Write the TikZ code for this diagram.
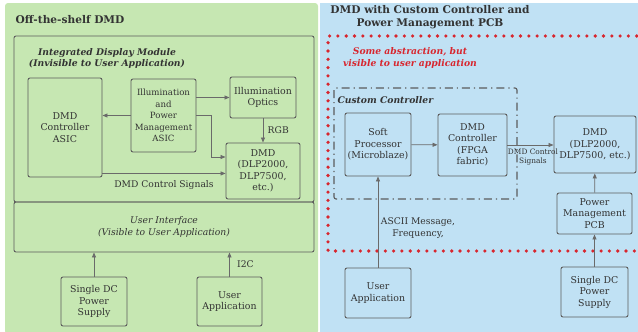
\documentclass[tikz,border=0pt]{standalone}
\usepackage{fontspec}
\setmainfont{DejaVu Serif}
\usetikzlibrary{arrows.meta, positioning}

\definecolor{panelgreen}{HTML}{C6E7B2}
\definecolor{panelblue}{HTML}{C0E1F4}
\definecolor{boxgray}{HTML}{5C5C5C}
\definecolor{arrowgray}{HTML}{6A6A6A}
\definecolor{dotred}{HTML}{D8262E}
\definecolor{textgray}{HTML}{333333}

\begin{document}
\begin{tikzpicture}[x=1pt, y=-1pt,
  blk/.style={rectangle, rounded corners=2pt, draw=boxgray, line width=0.9pt,
              align=center, text=textgray, inner sep=1pt,
              font=\fontsize{9.4}{11.5}\selectfont},
  frame/.style={rounded corners=2pt, draw=boxgray, line width=0.9pt},
  heading/.style={font=\fontsize{10.6}{13.5}\selectfont\bfseries, text=textgray, align=center},
  boxtitle/.style={font=\fontsize{9.2}{11.5}\selectfont\bfseries\itshape, text=textgray, align=center},
  note/.style={font=\fontsize{9.2}{11.5}\selectfont, text=textgray, align=center},
  arr/.style={-{Triangle[length=5pt, width=4pt]}, draw=arrowgray, line width=0.8pt},
]
  % panels
  \useasboundingbox (0,0) rectangle (638,332);
  \fill[panelgreen, rounded corners=3pt] (5,3) rectangle (318,334);
  \fill[panelblue] (320,3) rectangle (640,334);

  % ---- left: off-the-shelf DMD ----
  \node[heading, anchor=west] (titleL) at (12,20) {Off-the-shelf DMD};
  \draw[frame] (14,36) rectangle (314,202);
  \node[boxtitle] (idm) at (107,58.5) {Integrated Display Module\\(Invisible to User Application)};

  \node[blk, minimum width=74pt, minimum height=99pt] (ctrlasic) at (65,127.5) {DMD\\Controller\\ASIC};
  \node[blk, minimum width=65pt, minimum height=73pt, font=\fontsize{8.6}{11.5}\selectfont] (illasic) at (163.5,115.5) {Illumination\\and\\Power\\Management\\ASIC};
  \node[blk, minimum width=66pt, minimum height=41pt] (optics) at (263,97.5) {Illumination\\Optics};
  \node[blk, minimum width=74pt, minimum height=56pt] (dmdL) at (263,171) {DMD\\(DLP2000,\\DLP7500,\\etc.)};

  \draw[arr] (illasic.east |- optics) -- (optics.west);
  \draw[arr] (illasic.west) -- (ctrlasic.east |- illasic.west);
  \draw[arr] (illasic.east) -- ++(15,0) |- ([yshift=14pt]dmdL.west);
  \draw[arr] (optics) -- node[note, right=1pt] (lblrgb) {RGB} (dmdL);
  \coordinate (sigL) at ([yshift=4pt]ctrlasic.south east);
  \draw[arr] (sigL) -- (sigL -| dmdL.west);
  \node[note] (lblsigL) at (164,185) {DMD Control Signals};

  \node[blk, minimum width=300pt, minimum height=50pt, font=\fontsize{9.2}{11.5}\selectfont\itshape] (ui) at (164,227) {User Interface\\(Visible to User Application)};

  \node[blk, minimum width=66pt, minimum height=49pt] (psL) at (94,301.5) {Single DC\\Power\\Supply};
  \node[blk, minimum width=65pt, minimum height=49pt] (appL) at (229.5,301.5) {User\\Application};

  \draw[arr] (psL) -- (psL |- ui.south);
  \draw[arr] (appL) -- node[note, right=4pt] (lbli2c) {I2C} (appL |- ui.south);

  % ---- right: custom controller ----
  \node[heading] (titleR) at (430,17) {DMD with Custom Controller and\\Power Management PCB};
  \draw[dotred, line width=3.6pt, line cap=round, dash pattern=on 0pt off 8.3pt]
    (645,36) -- (328,36) -- (328,251) -- (645,251);
  \node[boxtitle, text=dotred] (abstr) at (410,58) {Some abstraction, but\\visible to user application};

  \draw[boxgray, line width=1.1pt, rounded corners=2pt,
        dash pattern=on 8pt off 4pt on 1.2pt off 4pt] (334,88) rectangle (517,199);
  \node[boxtitle, anchor=west] (custom) at (334,100) {Custom Controller};

  \node[blk, minimum width=66pt, minimum height=63pt] (soft) at (378,144.5) {Soft\\Processor\\(Microblaze)};
  \node[blk, minimum width=69pt, minimum height=62pt] (fpga) at (472.5,145) {DMD\\Controller\\(FPGA\\fabric)};
  \node[blk, minimum width=82pt, minimum height=57pt] (dmdR) at (595,144.5) {DMD\\(DLP2000,\\DLP7500, etc.)};
  \node[blk, minimum width=75pt, minimum height=41pt] (pcb) at (594.5,213.5) {Power\\Management\\PCB};
  \node[blk, minimum width=67pt, minimum height=50pt] (psR) at (594.5,292) {Single DC\\Power\\Supply};
  \node[blk, minimum width=66pt, minimum height=50pt] (appR) at (378,293) {User\\Application};

  \draw[arr] (soft) -- (fpga);
  \draw[arr] (fpga) -- (fpga -| dmdR.west);
  \node[note, font=\fontsize{7.4}{9}\selectfont] (lblsigR) at (533,157.5) {DMD Control\\Signals};
  \draw[arr] (pcb) -- (dmdR);
  \draw[arr] (psR) -- (pcb);
  \draw[arr] (appR) -- (soft);
  \node[note] (lblascii) at (418,228) {ASCII Message,\\Frequency,};
\end{tikzpicture}
\end{document}
